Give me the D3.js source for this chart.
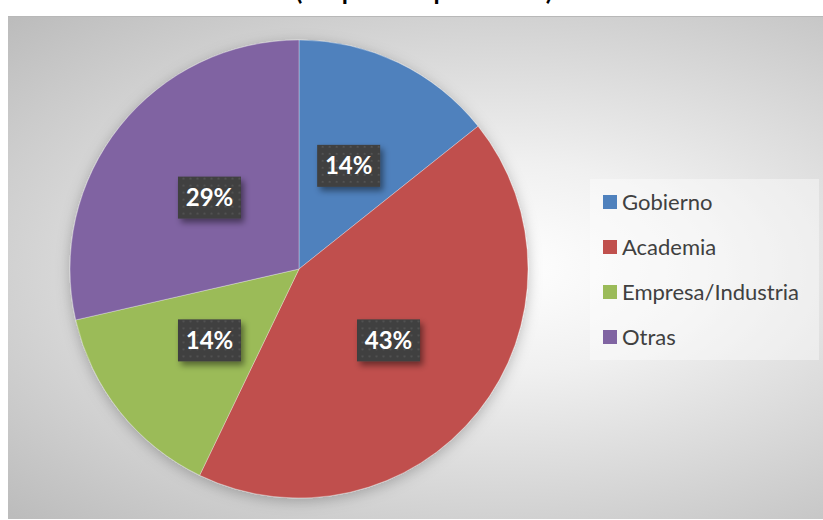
<!DOCTYPE html>
<html>
<head>
<meta charset="utf-8">
<title>pie</title>
<style>
  body { margin: 0; background: #ffffff; }
  svg { display: block; }
</style>
</head>
<body>
<div id="chart"></div>
<script src="https://d3js.org/d3.v7.min.js"></script>
<script>
  // data
  var categories = ["Gobierno", "Academia", "Empresa/Industria", "Otras"];
  var values = [1, 3, 1, 2];
  var colors = ["#4f81bd", "#c0504d", "#9bbb59", "#8064a2"];
  var title = "(Respuestas por sector)";

  var width = 823, height = 520;

  var svg = d3.select('#chart').append('svg')
    .attr('width', width)
    .attr('height', height);

  var defs = svg.append('defs');

  // background gradient, white in the middle
  var grad = defs.append('radialGradient').attr('id', 'bg')
    .attr('cx', '50%').attr('cy', '50%').attr('r', '70%');
  grad.append('stop').attr('offset', '0%').attr('stop-color', '#ffffff');
  grad.append('stop').attr('offset', '30%').attr('stop-color', '#f0f0f0');
  grad.append('stop').attr('offset', '100%').attr('stop-color', '#bcbcbc');

  // dotted pattern for the label boxes
  var pat = defs.append('pattern').attr('id', 'dots')
    .attr('width', 7).attr('height', 7)
    .attr('patternUnits', 'userSpaceOnUse');
  pat.append('rect').attr('width', 7).attr('height', 7).attr('fill', '#3f3f3f');
  pat.append('circle').attr('cx', 2).attr('cy', 2).attr('r', 0.9).attr('fill', '#5a5a5a');

  var pieShadow = defs.append('filter').attr('id', 'pieShadow')
    .attr('x', '-20%').attr('y', '-20%').attr('width', '140%').attr('height', '140%');
  pieShadow.append('feDropShadow').attr('dx', 0).attr('dy', 3)
    .attr('stdDeviation', 7).attr('flood-color', '#000').attr('flood-opacity', 0.25);

  var boxShadow = defs.append('filter').attr('id', 'boxShadow')
    .attr('x', '-30%').attr('y', '-30%').attr('width', '160%').attr('height', '160%');
  boxShadow.append('feDropShadow').attr('dx', 3).attr('dy', 4)
    .attr('stdDeviation', 3).attr('flood-color', '#000').attr('flood-opacity', 0.45);

  // title (cut off at the top, only descenders show)
  svg.append('text')
    .attr('x', 424).attr('y', 0)
    .attr('text-anchor', 'middle')
    .attr('font-family', 'Lato, sans-serif')
    .attr('font-weight', 'bold')
    .attr('font-size', 25)
    .attr('fill', '#000')
    .text(title);

  // chart area
  svg.append('rect')
    .attr('x', 8).attr('y', 16)
    .attr('width', 984).attr('height', 503)
    .attr('fill', 'url(#bg)');
  svg.append('line')
    .attr('x1', 8).attr('x2', 823).attr('y1', 16.5).attr('y2', 16.5)
    .attr('stroke', '#b8b8b8');

  var cx = 299, cy = 269, r = 229;
  var total = d3.sum(values);

  var pie = d3.pie().sort(null).value(function(d){ return d; });
  var arc = d3.arc().innerRadius(0).outerRadius(r);
  var slices = pie(values);

  var g = svg.append('g').attr('transform', 'translate(' + cx + ',' + cy + ')');

  g.append('g').attr('filter', 'url(#pieShadow)')
    .selectAll('path')
    .data(slices)
    .enter()
    .append('path')
    .attr('d', arc)
    .attr('fill', function(d, i){ return colors[i]; })
    .attr('stroke', 'rgba(255,255,255,0.45)')
    .attr('stroke-width', 0.7);

  // data labels
  var fmt = d3.format('.0%');
  var labels = g.selectAll('.lab')
    .data(slices)
    .enter()
    .append('g')
    .attr('class', 'lab')
    .attr('transform', function(d){
      var c = arc.centroid(d);
      return 'translate(' + c[0] + ',' + c[1] + ')';
    });

  labels.append('rect')
    .attr('x', -31.5).attr('y', -21)
    .attr('width', 63).attr('height', 42)
    .attr('fill', 'url(#dots)')
    .attr('filter', 'url(#boxShadow)');

  labels.append('text')
    .attr('text-anchor', 'middle')
    .attr('y', 8.5)
    .attr('font-family', 'Lato, sans-serif')
    .attr('font-weight', 'bold')
    .attr('font-size', 24)
    .attr('fill', '#ffffff')
    .text(function(d){ return fmt(d.value / total); });

  // legend
  svg.append('rect')
    .attr('x', 590).attr('y', 179)
    .attr('width', 229).attr('height', 181)
    .attr('fill', '#ffffff').attr('fill-opacity', 0.4);

  var legend = svg.selectAll('.leg')
    .data(categories)
    .enter()
    .append('g')
    .attr('class', 'leg')
    .attr('transform', function(d, i){ return 'translate(603,' + (202 + i * 45) + ')'; });

  legend.append('rect')
    .attr('x', 0).attr('y', -7)
    .attr('width', 14).attr('height', 14)
    .attr('fill', function(d, i){ return colors[i]; });

  legend.append('text')
    .attr('x', 19).attr('y', 7.5)
    .attr('font-family', 'Lato, sans-serif')
    .attr('font-size', 22)
    .attr('fill', '#404040')
    .text(function(d){ return d; });
</script>
</body>
</html>
